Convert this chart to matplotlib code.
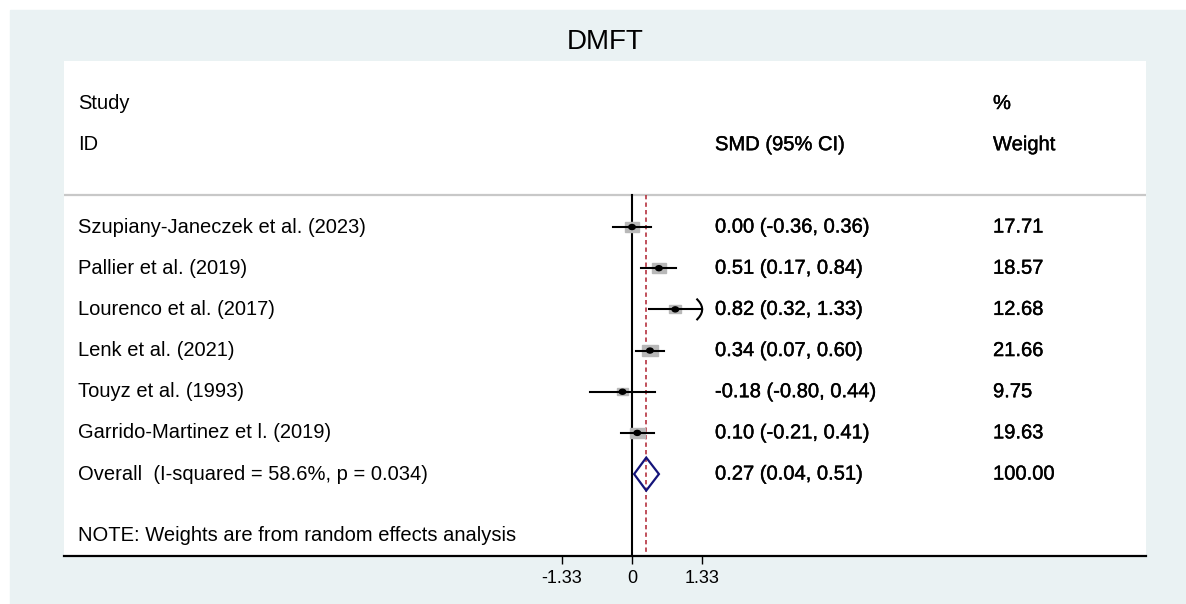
import numpy as np
import matplotlib
matplotlib.use("Agg")
import matplotlib.pyplot as plt
import matplotlib.patheffects as pe
from matplotlib.patches import Rectangle, Ellipse, Polygon

plt.rcParams['font.family'] = ['Liberation Sans', 'DejaVu Sans']

# data
studies = ["Szupiany-Janeczek et al. (2023)", "Pallier et al. (2019)",
           "Lourenco et al. (2017)", "Lenk et al. (2021)",
           "Touyz et al. (1993)", "Garrido-Martinez et l. (2019)"]
smd = [0.00, 0.51, 0.82, 0.34, -0.18, 0.10]
ci_lo = [-0.36, 0.17, 0.32, 0.07, -0.80, -0.21]
ci_hi = [0.36, 0.84, 1.33, 0.60, 0.44, 0.41]
weights = [17.71, 18.57, 12.68, 21.66, 9.75, 19.63]
overall = [0.27, 0.04, 0.51]
i_squared = 58.6
p_het = 0.034
xticks = [-1.33, 0, 1.33]

W, H = 1186, 604
fig = plt.figure(figsize=(W / 100, H / 100), dpi=100)
fig.patch.set_facecolor("white")
fig.add_artist(Rectangle((10 / W, 0), (W - 10) / W, (H - 10) / H,
                         transform=fig.transFigure, color="#EAF2F3", zorder=-5))

# plot region (white) in pixel terms
left_px, right_px, top_px, bot_px = 64, 1146, 60.7, 556
ax = fig.add_axes([left_px / W, 1 - bot_px / H, (right_px - left_px) / W, (bot_px - top_px) / H])
ax.set_facecolor("white")

ppu = 70.2 / 1.33          # pixels per SMD unit
row_px = 41.2              # pixels per row
zero_px = 632
ax.set_xlim((left_px - zero_px) / ppu, (right_px - zero_px) / ppu)
ax.set_ylim(7.99, -4.04)

for s in ["top", "left", "right"]:
    ax.spines[s].set_visible(False)
ax.spines["bottom"].set_linewidth(1.6)
ax.set_yticks([])
ax.set_xticks(xticks)
ax.set_xticklabels(["-1.33", "0", "1.33"])
ax.tick_params(axis="x", length=6, width=1, direction="out", pad=4, labelsize=13)

fs = 14.5
heavy = dict(path_effects=[pe.withStroke(linewidth=0.3, foreground="black")])
col_study = (78 - zero_px) / ppu
col_smd = (715 - zero_px) / ppu
col_w = (993 - zero_px) / ppu

# headers
ax.text(col_study, -3, "Study", fontsize=fs, va="center")
ax.text(col_study, -2, "ID", fontsize=fs, va="center")
ax.text(col_smd, -2, "SMD (95% CI)", fontsize=fs, va="center", **heavy)
ax.text(col_w, -3, "%", fontsize=fs, va="center", **heavy)
ax.text(col_w, -2, "Weight", fontsize=fs, va="center", **heavy)
ax.axhline(-0.78, color="#C8C8C8", lw=1.6)

# reference lines
ax.plot([0, 0], [-0.78, 7.99], color="black", lw=1.5, zorder=2)
ax.plot([overall[0]] * 2, [-0.78, 7.99], color="#B5323F", lw=1.2,
        linestyle=(0, (2.6, 1.9)), zorder=2)

xmax = max(xticks)
bw = 3.4 / ppu
bh = 2.2 / row_px
for i, (name, e, lo, hi, w) in enumerate(zip(studies, smd, ci_lo, ci_hi, weights)):
    s = np.sqrt(w)
    ax.add_patch(Rectangle((e - bw * s / 2, i - bh * s / 2), bw * s, bh * s,
                           color="#B8B8B8", zorder=3))
    ax.plot([lo, min(hi, xmax)], [i, i], color="black", lw=1.5, zorder=4)
    if hi >= xmax:
        t = np.linspace(-1, 1, 9)
        ax.plot(xmax - t ** 2 * 5 / ppu, i + t * 10 / row_px,
                color="black", lw=1.5, zorder=4)
    ax.add_patch(Ellipse((e, i), 6.5 / ppu, 5 / row_px, color="black", zorder=5))
    ax.text(col_study, i, name, fontsize=fs, va="center")
    ax.text(col_smd, i, f"{e:.2f} ({lo:.2f}, {hi:.2f})", fontsize=fs, va="center", **heavy)
    ax.text(col_w, i, f"{w:.2f}", fontsize=fs, va="center", **heavy)

# overall diamond
n = len(studies)
dh = 16.5 / row_px
ax.add_patch(Polygon([(overall[1], n), (overall[0], n - dh), (overall[2], n), (overall[0], n + dh)],
                     closed=True, fill=False, edgecolor="#14147A", lw=1.6, zorder=5))
ax.text(col_study, n, f"Overall  (I-squared = {i_squared}%, p = {p_het:.3f})", fontsize=fs, va="center")
ax.text(col_smd, n, f"{overall[0]:.2f} ({overall[1]:.2f}, {overall[2]:.2f})", fontsize=fs,
        va="center", **heavy)
ax.text(col_w, n, f"{sum(weights):.2f}", fontsize=fs, va="center", **heavy)
ax.text(col_study, n + 1.5, "NOTE: Weights are from random effects analysis", fontsize=fs, va="center")

fig.text(605 / W, 1 - 42 / H, "DMFT", fontsize=20, ha="center", va="center")

fig.savefig("out.png", dpi=100)
